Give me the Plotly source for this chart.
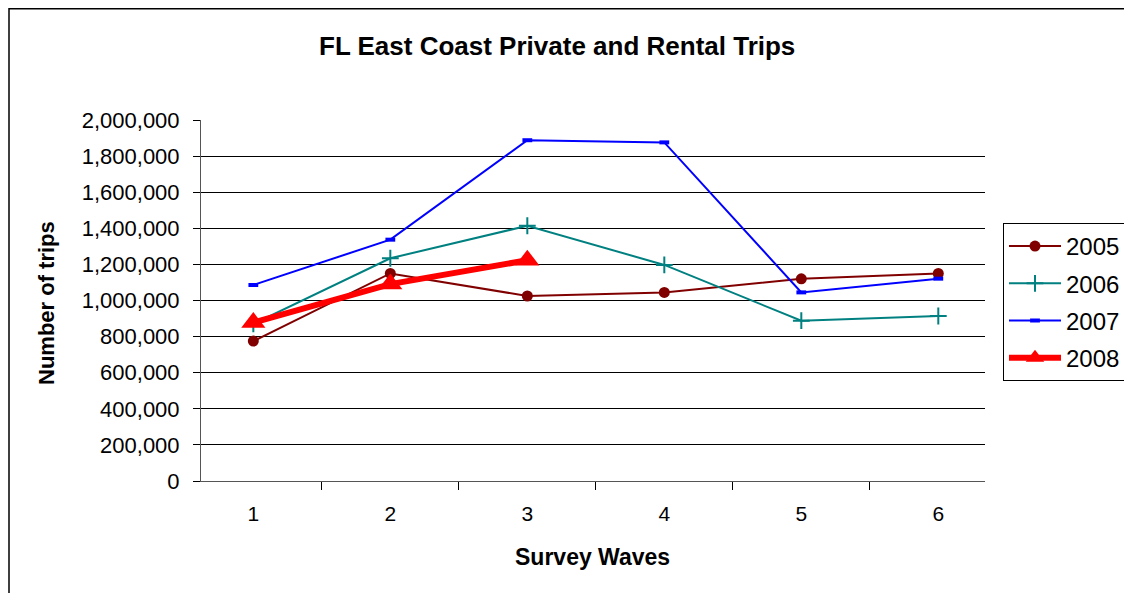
import plotly.graph_objects as go

waves = ["1", "2", "3", "4", "5", "6"]
trips_2005 = [775000, 1150000, 1025000, 1045000, 1120000, 1150000]
trips_2006 = [870000, 1234000, 1414000, 1197000, 888000, 914000]
trips_2007 = [1086000, 1337000, 1888000, 1876000, 1045000, 1121000]
trips_2008 = [878000, 1091000, 1223000]
y_ticks = list(range(0, 2000001, 200000))

# page offset: plotly's html has an 8px body margin
OFF = 8
PL, PR, PT, PB = 201, 985, 120, 481   # plot box in page pixels


def px_x(x):
    return (x - PL) / (PR - PL)


def px_y(y):
    return (PB - y) / (PB - PT)


fig = go.Figure()
fig.add_trace(go.Scatter(x=waves, y=trips_2005, name="2005", mode="lines+markers",
                         legendgroup="a",
                         line=dict(color="#800000", width=2),
                         marker=dict(symbol="circle", size=11, color="#800000")))
fig.add_trace(go.Scatter(x=waves, y=trips_2006, name="2006", mode="lines+markers",
                         legendgroup="b",
                         line=dict(color="#008080", width=2),
                         marker=dict(symbol="cross-thin", size=12,
                                     line=dict(color="#008080", width=2))))
fig.add_trace(go.Scatter(x=waves, y=trips_2007, name="2007", mode="lines+markers",
                         legendgroup="c",
                         line=dict(color="#0000FF", width=2),
                         marker=dict(symbol="line-ew", size=7,
                                     line=dict(color="#0000FF", width=4))))
fig.add_trace(go.Scatter(x=waves[:len(trips_2008)], y=trips_2008, name="2008",
                         mode="lines+markers", legendgroup="d",
                         line=dict(color="#FF0000", width=6),
                         marker=dict(symbol="triangle-up", size=21, color="#FF0000")))

fig.update_layout(
    width=1132, height=593,
    margin=dict(l=PL - OFF, r=1132 - (PR - OFF), t=PT - OFF, b=593 - (PB - OFF)),
    paper_bgcolor="white", plot_bgcolor="white",
    font=dict(family="Arial, Liberation Sans, sans-serif", size=21, color="black"),
    showlegend=True,
    legend=dict(x=px_x(1003), y=px_y(223), xanchor="left", yanchor="top",
                bordercolor="black", borderwidth=1, bgcolor="white",
                font=dict(size=24), itemwidth=52, tracegroupgap=3),
    annotations=[
        dict(text="<b>FL East Coast Private and Rental Trips</b>", xref="paper", yref="paper",
             x=px_x(557), y=px_y(46), xanchor="center", yanchor="middle",
             showarrow=False, font=dict(size=26)),
        dict(text="<b>Number of trips</b>", xref="paper", yref="paper",
             x=px_x(46), y=px_y(303), xanchor="center", yanchor="middle",
             textangle=-90, showarrow=False, font=dict(size=22)),
        dict(text="<b>Survey Waves</b>", xref="paper", yref="paper",
             x=px_x(592), y=px_y(557), xanchor="center", yanchor="middle",
             showarrow=False, font=dict(size=23)),
    ],
    shapes=[
        dict(type="rect", xref="paper", yref="paper",
             x0=px_x(9), x1=px_x(1160), y0=px_y(620), y1=px_y(8.8),
             line=dict(color="black", width=1.5)),
    ],
)
fig.update_xaxes(type="category", tickson="boundaries", ticks="outside", ticklen=8,
                 tickcolor="black", showline=True, linecolor="#555", linewidth=1,
                 showgrid=False, tickfont=dict(size=21), ticklabelstandoff=14)
fig.update_yaxes(range=[0, 2000000], tickvals=y_ticks, tickformat=",d",
                 ticks="outside", ticklen=7, tickcolor="black",
                 showline=True, linecolor="#555", linewidth=1,
                 showgrid=True, gridcolor="black", gridwidth=1,
                 zeroline=False, tickfont=dict(size=22), ticklabelstandoff=9)

fig.write_html("out.html")
